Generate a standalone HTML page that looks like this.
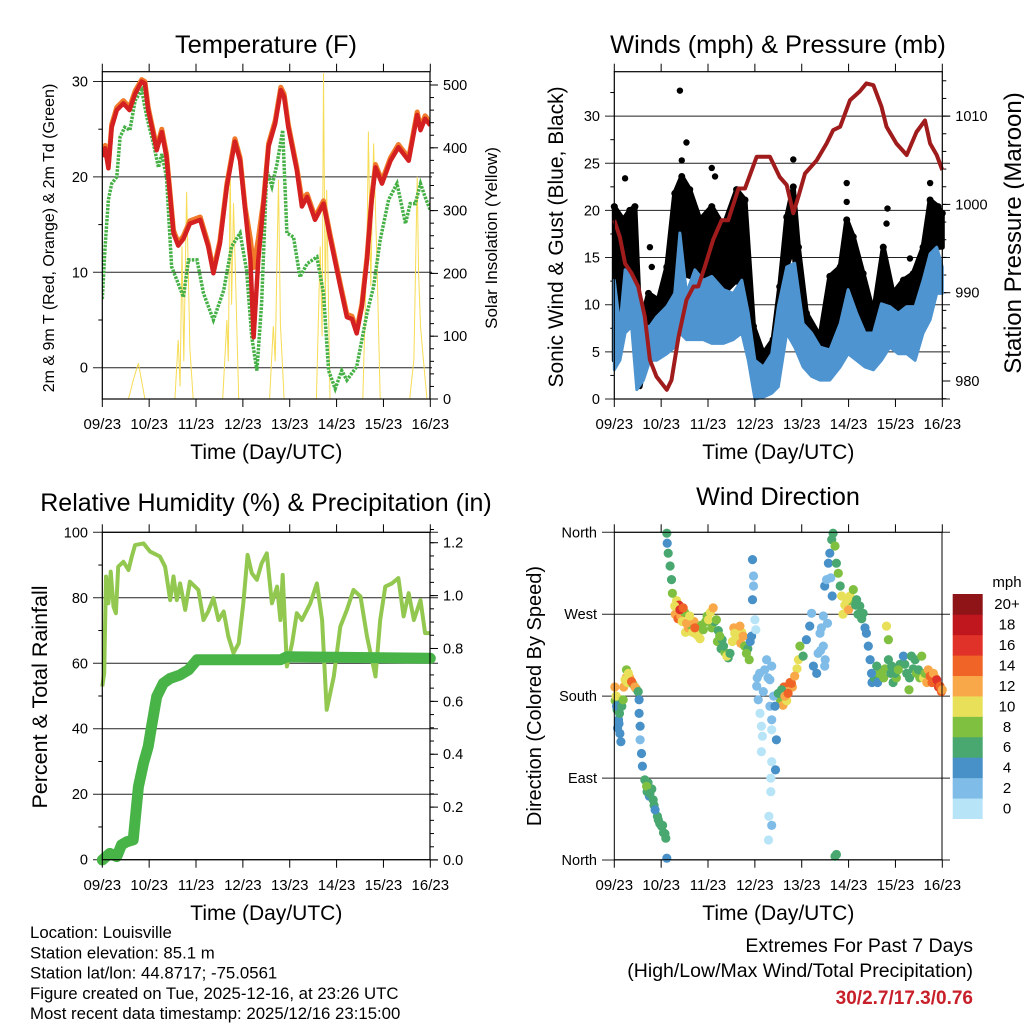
<!DOCTYPE html>
<html><head><meta charset="utf-8"><style>
html,body{margin:0;padding:0;background:#fff;}
svg{display:block;font-family:"Liberation Sans",sans-serif;}
</style></head><body>
<svg id="chart" width="1024" height="1024" viewBox="0 0 1024 1024" xmlns="http://www.w3.org/2000/svg">
<rect x="0" y="0" width="1024" height="1024" fill="#fff"/>
<g id="layer"></g>
</svg>
<script>
// ---------- data ----------
const dayLabels=['09/23','10/23','11/23','12/23','13/23','14/23','15/23','16/23'];
const tempTicks=[0,10,20,30];
const solarTicks=[0,100,200,300,400,500];
const windTicks=[0,5,10,15,20,25,30];
const presTicks=[980,990,1000,1010];
const rhTicks=[0,20,40,60,80,100];
const precTicks=[0,0.2,0.4,0.6,0.8,1.0,1.2];
const dirTickVals=[0,90,180,270,360];
const dirTickLabels=['North','East','South','West','North'];
const speedBins=['0','2','4','6','8','10','12','14','16','18','20+'];
const speedColors=['#b8e4f8','#80bce8','#4890c8','#48a870','#80c040','#e8e058','#f8a848','#f06428','#e03228','#c0161e','#8e1418'];

const redT=[0,0.06,0.13,0.20,0.31,0.45,0.58,0.70,0.84,0.91,0.98,1.16,1.27,1.37,1.52,1.62,1.73,1.87,2.09,2.26,2.37,2.51,2.66,2.83,2.94,3.05,3.16,3.23,3.33,3.44,3.55,3.69,3.81,3.88,3.97,4.15,4.26,4.37,4.54,4.72,4.86,5.08,5.22,5.33,5.43,5.54,5.65,5.75,5.83,5.97,6.15,6.32,6.54,6.72,6.79,6.89,7.0];
const redV=[22.1,23.0,20.9,25.2,27.0,27.7,27.0,28.7,30.0,29.8,27.0,22.8,24.7,22.1,14.1,12.8,13.5,15.1,15.5,12.7,9.9,13.0,19.0,23.7,21.7,16.5,11.3,3.2,11.3,17.2,23.2,25.6,29.1,28.4,25.2,20.7,16.9,17.9,15.5,17.2,13.7,8.5,5.3,5.1,3.6,6.4,11.3,17.6,21.0,19.3,21.7,23.1,21.7,26.5,24.9,26.1,25.4];
const orangeV=[22.5,23.3,21.2,25.5,27.3,28.0,27.3,29.0,30.2,30.0,27.3,23.1,25.0,22.4,14.4,13.1,13.8,15.4,15.8,13.0,10.2,13.3,19.3,24.0,22.0,16.8,13.5,10.5,13.5,17.5,23.5,25.9,29.4,28.7,25.5,21.0,17.6,18.2,15.8,17.5,14.0,8.8,5.6,5.4,3.9,6.7,11.6,17.9,21.3,19.6,22.0,23.4,22.0,26.8,25.2,26.4,25.7];
const greenT=[0,0.06,0.13,0.20,0.31,0.38,0.48,0.59,0.70,0.84,0.95,1.09,1.20,1.27,1.37,1.48,1.59,1.73,1.84,2.02,2.16,2.37,2.59,2.76,2.94,3.08,3.19,3.30,3.40,3.51,3.62,3.73,3.85,3.94,4.08,4.22,4.37,4.58,4.72,4.83,4.97,5.11,5.22,5.43,5.65,5.79,5.93,6.11,6.29,6.47,6.57,6.68,6.79,6.89,7.0];
const greenV=[7.2,12.7,17.6,19.3,20.0,24.2,25.2,24.9,28.0,29.1,26.3,23.5,21.0,22.4,20.0,10.6,9.2,7.4,11.3,11.3,7.8,5.0,8.1,12.7,14.1,10.2,3.2,-0.3,6.7,20.7,19.0,21.4,24.9,14.1,13.7,9.5,10.9,11.6,7.8,-0.3,-2.2,-0.3,-1.3,0.1,5.7,8.5,13.4,17.6,19.3,15.1,17.2,17.2,19.3,17.9,16.5];
const solarT=[0,0.56,0.66,0.77,0.91,1.55,1.62,1.66,1.70,1.74,1.80,1.87,1.94,2.57,2.66,2.69,2.73,2.76,2.80,2.83,2.91,3.57,3.65,3.69,3.73,3.76,3.80,3.88,4.57,4.65,4.69,4.72,4.76,4.79,4.86,5.56,5.65,5.68,5.73,5.79,5.86,5.93,6.56,6.65,6.72,6.75,6.79,6.86,6.93,7.0];
const solarV=[0,0,30,57,0,0,94,20,243,60,330,80,0,0,126,60,370,150,312,232,0,0,116,60,232,349,120,0,0,243,100,519,150,333,0,0,248,426,180,407,222,0,0,63,354,200,116,57,0,0];

const presT=[0,0.12,0.23,0.37,0.51,0.65,0.76,0.90,1.12,1.22,1.37,1.54,1.69,1.79,1.93,2.11,2.29,2.43,2.65,2.79,3.04,3.32,3.53,3.68,3.82,3.93,4.07,4.32,4.53,4.67,4.82,5.03,5.24,5.38,5.53,5.70,5.81,6.02,6.24,6.45,6.63,6.74,6.88,7.0];
const presV=[998.2,996.3,993.3,992.2,990.7,987.3,982.4,980.5,979.0,980.1,985.0,989.2,990.7,990.7,992.9,996.0,998.2,998.2,1001.8,1001.8,1005.4,1005.4,1003.1,1002.2,999.0,1000.9,1003.5,1005.0,1006.9,1008.4,1008.8,1011.8,1012.8,1013.7,1013.5,1011.1,1008.8,1006.9,1005.6,1008.2,1009.5,1006.9,1005.6,1003.9];
const windT=[0,0.12,0.23,0.37,0.48,0.62,0.76,0.90,1.12,1.29,1.40,1.54,1.72,1.90,2.08,2.33,2.54,2.72,2.86,3.00,3.18,3.36,3.50,3.68,3.85,4.03,4.21,4.39,4.60,4.82,4.99,5.17,5.35,5.53,5.70,5.88,6.06,6.24,6.42,6.59,6.74,6.88,7.0];
const windHi=[12.6,7.7,13.7,13.0,11.9,7.7,7.7,8.7,9.8,11.2,17.6,11.2,13.7,12.6,13.0,11.6,11.2,12.6,9.1,4.1,3.4,4.8,9.8,14.0,14.4,8.0,7.0,5.5,5.2,8.0,11.6,9.1,7.0,7.0,10.1,9.8,9.1,9.8,9.8,12.6,15.4,16.1,14.0];
const windLo=[3.1,4.1,7.0,7.7,1.0,2.0,4.1,4.1,4.8,5.5,7.0,6.3,6.3,6.3,5.9,5.9,6.3,7.0,4.1,0.0,0.2,0.6,1.3,7.0,5.5,3.4,2.4,2.0,2.0,3.4,4.8,4.1,3.4,3.1,4.1,5.5,4.8,4.8,4.1,7.0,8.4,11.2,11.2];
const gustT=[0,0.19,0.33,0.44,0.55,0.73,0.94,1.12,1.29,1.44,1.61,1.83,2.08,2.33,2.61,2.79,2.97,3.18,3.39,3.53,3.68,3.82,3.93,4.10,4.39,4.60,4.82,4.96,5.10,5.31,5.53,5.74,5.95,6.17,6.38,6.59,6.74,6.91,7.0];
const gustHi=[20.4,19.0,20.0,20.4,7.7,11.2,10.5,14.0,21.8,23.6,22.2,19.0,20.4,18.3,22.2,21.1,7.7,4.8,6.3,11.9,19.3,22.5,16.1,9.1,6.6,13.0,14.0,19.0,17.2,13.3,9.1,16.1,11.2,12.6,13.3,16.1,21.1,20.4,19.7];
const gustLo=[4.1,7.7,11.9,11.9,1.3,6.3,6.6,7.7,11.2,13.3,13.0,12.6,11.9,11.2,12.6,11.2,4.1,1.3,2.0,4.1,14.0,16.1,11.2,5.5,4.1,5.2,8.4,11.2,11.2,8.4,5.5,9.1,7.7,8.4,8.7,10.1,14.7,16.1,16.1];
const gustOutT=[1.40,1.54,1.44,2.08,2.15,0.23,0.76,0.80,3.82,4.96,4.96,5.83,5.81,6.74,6.31];
const gustOutV=[32.7,27.2,25.3,24.5,23.6,23.4,16.1,14.0,25.4,22.9,20.9,20.2,18.6,22.9,14.9];

const rhT=[0,0.04,0.08,0.13,0.18,0.24,0.29,0.34,0.45,0.56,0.63,0.70,0.88,1.02,1.23,1.34,1.45,1.52,1.59,1.66,1.77,1.87,2.05,2.16,2.26,2.37,2.48,2.59,2.69,2.80,2.91,3.01,3.10,3.19,3.30,3.40,3.51,3.62,3.73,3.80,3.85,3.94,4.05,4.15,4.26,4.44,4.58,4.69,4.79,4.94,5.08,5.22,5.36,5.51,5.65,5.83,5.93,6.04,6.18,6.32,6.43,6.54,6.65,6.79,6.89,7.0];
const rhV=[52.9,57.0,86.5,78.3,88.0,77.3,75.3,89.5,91.0,88.5,92.6,96.1,96.6,94.1,92.6,89.5,79.3,86.5,79.3,84.4,76.3,84.9,82.4,73.2,75.8,79.9,73.2,75.8,68.2,63.1,66.1,78.3,93.1,87.5,85.5,90.5,93.6,78.3,83.4,73.2,87.0,59.0,66.1,75.3,73.2,78.3,84.4,73.2,45.8,56.0,71.2,76.3,82.4,80.4,68.2,56.0,73.2,83.4,84.4,86.0,74.3,81.4,73.2,79.3,69.2,69.2];
const precT=[0,0.16,0.31,0.41,0.52,0.66,0.77,0.88,0.98,1.05,1.16,1.30,1.45,1.66,1.84,2.02,3.80,3.94,7.0];
const precV=[0,0.025,0.013,0.057,0.069,0.076,0.277,0.366,0.429,0.504,0.618,0.668,0.687,0.70,0.719,0.757,0.757,0.769,0.763];

const dirT=[0.01,0.04,0.05,0.09,0.12,0.14,0.11,0.16,0.19,0.23,0.26,0.30,0.37,0.44,0.51,0.53,0.53,0.55,0.55,0.58,0.60,0.65,0.69,0.76,0.83,0.87,0.94,1.01,1.08,1.10,1.12,1.12,1.13,1.15,1.19,1.22,1.24,1.29,1.40,1.47,1.54,1.61,1.72,1.79,1.90,2.01,2.11,2.18,2.25,2.33,2.40,2.47,2.57,2.68,2.75,2.82,2.88,2.93,2.95,2.97,2.97,2.95,3.00,3.02,3.04,3.07,3.11,3.14,3.16,3.14,3.21,3.25,3.32,3.36,3.32,3.36,3.36,3.36,3.44,3.34,3.34,3.30,3.36,3.29,3.43,3.46,3.50,3.57,3.64,3.71,3.78,3.85,3.93,3.96,4.03,4.10,4.17,4.21,4.25,4.32,4.35,4.39,4.46,4.49,4.46,4.49,4.53,4.57,4.60,4.64,4.67,4.71,4.74,4.78,4.82,4.85,4.96,5.03,5.10,5.17,5.24,5.31,5.38,5.42,5.46,5.49,5.60,5.70,5.81,5.85,5.85,5.92,5.99,6.06,6.17,6.24,6.29,6.34,6.42,6.49,6.56,6.63,6.70,6.74,6.81,6.88,6.95,7.00,4.71,4.74];
const dirDeg=[190,180,169,154,139,130,161,169,176,198,209,205,196,190,185,176,161,147,132,117,103,88,81,73,66,55,44,37,29,24,2,359,348,337,323,308,293,279,275,277,260,268,255,246,253,264,277,264,246,235,224,227,249,257,246,227,220,246,330,312,301,286,264,253,191,176,161,147,136,119,209,220,198,213,169,154,143,108,99,90,75,48,38,22,169,132,183,187,180,183,194,202,220,235,224,242,257,271,213,205,227,249,235,213,268,301,308,326,337,352,359,345,326,315,301,290,286,290,297,286,279,271,249,235,220,205,213,205,257,242,220,213,205,209,224,205,187,224,220,209,224,205,209,202,205,198,191,187,4,6];
const dirSpd=[12,10,5,4,4,4,6,6,8,10,8,10,14,12,6,4,4,4,2,4,4,6,8,6,6,4,6,6,6,6,4,6,4,6,6,6,8,10,16,14,12,10,14,10,8,10,12,8,8,6,10,6,10,12,12,8,8,4,4,2,2,4,0,0,2,2,0,0,0,0,2,2,2,2,2,2,0,0,4,0,0,0,2,0,4,4,6,6,12,14,14,12,10,8,6,4,4,2,4,4,2,2,2,2,2,4,2,4,4,6,6,8,6,8,6,10,10,10,8,6,6,6,4,4,4,4,6,8,10,8,6,6,6,8,4,6,8,6,6,6,8,8,12,14,12,16,14,12,6,6];
const dirT2=[1.30,1.33,1.36,1.38,1.42,1.45,1.50,1.52,1.58,1.63,1.67,1.70,1.75,1.83,1.86,1.95,1.98,2.05,2.08,2.14,2.20,2.22,2.28,2.30,2.36,2.43,2.52,2.55,2.60,2.63,2.70,2.72,2.78,2.85,2.90,0.02,0.06,0.08,0.10,0.07,0.20,0.25,0.28,0.33,0.40,0.47,0.70,0.72,0.75,0.80,0.85,0.92,0.97,1.03,1.05,3.55,3.60,3.62,3.67,3.68,3.75,3.80,3.90,4.40,4.42,4.50,4.55,4.62,4.65,4.88,4.92,5.00,5.05,5.15,5.20,5.28,5.35,5.50,5.55,5.62,5.65,5.75,5.78,5.90,5.95,6.02,6.10,6.20,6.30,6.38,6.45,6.52,6.60,6.67,6.78,6.85,6.92,6.98,3.05,3.10,3.18,3.28,3.40];
const dirDeg2=[270,285,265,280,268,262,272,250,255,258,250,262,248,243,258,262,268,272,255,262,240,252,232,242,228,222,240,255,250,243,238,250,235,232,240,175,165,172,150,145,190,200,195,200,193,188,75,85,70,78,60,48,40,38,30,175,170,190,185,175,195,190,210,230,255,220,260,310,290,270,280,275,285,280,270,265,255,195,200,195,205,200,210,205,195,200,215,215,200,210,205,200,200,195,195,200,190,185,200,205,185,200,180];
const dirSpd2=[12,10,14,16,12,10,8,10,12,8,10,12,10,10,8,8,8,10,8,6,8,6,6,6,8,6,10,12,12,10,12,10,8,6,4,8,6,6,4,4,12,12,10,12,8,8,6,6,4,6,6,6,6,6,6,8,12,14,12,10,14,12,10,2,2,2,2,2,4,10,10,12,8,6,6,6,4,4,6,4,8,8,8,6,6,8,6,6,6,6,8,8,10,12,14,12,16,14,2,2,2,2,2];

// ---------- helpers ----------
const NS='http://www.w3.org/2000/svg';
const root=document.getElementById('layer');
function mk(tag,attrs,parent){const e=document.createElementNS(NS,tag);for(const k in attrs)e.setAttribute(k,attrs[k]);(parent||root).appendChild(e);return e;}
function txt(s,attrs,parent){const e=mk('text',attrs,parent);e.textContent=s;return e;}
const DAYW=328/7;
function pathFrom(ts,vs,fx,fy){let d='';for(let i=0;i<ts.length;i++){d+=(i?'L':'M')+fx(ts[i]).toFixed(1)+','+fy(vs[i]).toFixed(1);}return d;}
function bandFrom(ts,hi,lo,fx,fy){let d='';for(let i=0;i<ts.length;i++)d+=(i?'L':'M')+fx(ts[i]).toFixed(1)+','+fy(hi[i]).toFixed(1);for(let i=ts.length-1;i>=0;i--)d+='L'+fx(ts[i]).toFixed(1)+','+fy(lo[i]).toFixed(1);return d+'Z';}

function xAxis(g,x0,yTop,yBot,labelY,titleY,prefix){
  for(let i=0;i<dayLabels.length;i++){
    const x=x0+i*DAYW;
    const t1=mk('line',{x1:x,y1:yTop,x2:x,y2:yTop-8,stroke:'#000','stroke-width':1},g);
    
    
    const t2=mk('line',{x1:x,y1:yBot,x2:x,y2:yBot+8,stroke:'#000','stroke-width':1},g);
    
    
    const l=txt(dayLabels[i],{x:x,y:labelY,'font-size':15,'text-anchor':'middle'},g);
    
    
  }
  const tt=txt('Time (Day/UTC)',{x:x0+164,y:titleY,'font-size':21,'text-anchor':'middle'},g);
  
  
}
function frame(g,x0,y0,x1,y1,prefix){
  const r=mk('rect',{x:x0,y:y0,width:x1-x0,height:y1-y0,fill:'none',stroke:'#000','stroke-width':1.2},g);
  
  
}
function leftTicks(g,vals,labels,fy,x0,gx0,gx1,prefix,minorVals){
  (minorVals||[]).forEach(v=>{const m=mk('line',{x1:x0,x2:x0-4,y1:fy(v),y2:fy(v),stroke:'#000','stroke-width':1},g);
    
    });
  vals.forEach((v,i)=>{
    const y=fy(v);
    const gl=mk('line',{x1:gx0,x2:gx1,y1:y,y2:y,stroke:'#222','stroke-width':1},g);
    
    
    const l=txt(labels[i],{x:gx0-5,y:y+5,'font-size':14.5,'text-anchor':'end'},g);
    
    
  });
}
function rightTicks(g,vals,labels,fy,x1,prefix,minorVals){
  minorVals.forEach(v=>{const m=mk('line',{x1:x1,x2:x1+4,y1:fy(v),y2:fy(v),stroke:'#000','stroke-width':1},g);
    
    });
  vals.forEach((v,i)=>{
    const y=fy(v);
    const t=mk('line',{x1:x1,x2:x1+8,y1:y,y2:y,stroke:'#000','stroke-width':1},g);
    
    
    const l=txt(labels[i],{x:x1+13,y:y+5,'font-size':14.5,'text-anchor':'start'},g);
    
    
  });
}
function vtitle(g,s,x,y,size,name){
  const t=txt(s,{x:0,y:0,'font-size':size,'text-anchor':'middle',transform:`translate(${x},${y}) rotate(-90)`},g);
  
  
}
function htitle(g,s,x,y,size,name){
  const t=txt(s,{x:x,y:y,'font-size':size,'text-anchor':'middle'},g);
  
  
}
function range(a,b,s){const r=[];for(let v=a;v<=b+1e-9;v+=s)r.push(+v.toFixed(4));return r;}

// ---------- Panel 1: Temperature ----------
{
const g=mk('g',{});


const X=t=>102.3+t*DAYW, Y=v=>367.7-v*9.54, YS=s=>399-s*0.628;
const cp=mk('clipPath',{id:'cp1'},g);mk('rect',{x:102.3,y:71.7,width:327.7,height:327.3},cp);
leftTicks(g,tempTicks,tempTicks.map(String),Y,102.3,93,432,'temp',[5,15,25]);
rightTicks(g,solarTicks,solarTicks.map(String),YS,430,'solar',range(0,500,20));
const sol=mk('path',{d:pathFrom(solarT,solarV,X,YS),fill:'none',stroke:'#f7dc55','stroke-width':1,'clip-path':'url(#cp1)'},g);


const gr=mk('path',{d:pathFrom(greenT,greenV,X,Y),fill:'none',stroke:'#45b045','stroke-width':3.5,'stroke-dasharray':'2.5 1.2','clip-path':'url(#cp1)'},g);


const or=mk('path',{d:pathFrom(redT,orangeV,X,Y),fill:'none',stroke:'#f07a2a','stroke-width':5,'stroke-linejoin':'round','clip-path':'url(#cp1)'},g);


const rd=mk('path',{d:pathFrom(redT,redV,X,Y),fill:'none',stroke:'#d42020','stroke-width':4.5,'stroke-linejoin':'round','clip-path':'url(#cp1)'},g);


frame(g,102.3,71.7,430,399,'temp');
xAxis(g,102.3,71.7,399,429,459,'temp');
htitle(g,'Temperature (F)',266,53,25.4,'temperature-title');
vtitle(g,'2m & 9m T (Red, Orange) & 2m Td (Green)',54,238,16,'temp-y-axis-title');
vtitle(g,'Solar Insolation (Yellow)',497,238,17,'solar-y-axis-title');
}

// ---------- Panel 2: Winds & Pressure ----------
{
const g=mk('g',{});


const X=t=>614.3+t*DAYW, Y=v=>399-v*9.43, YP=p=>381-(p-980)*8.83;
const cp=mk('clipPath',{id:'cp2'},g);mk('rect',{x:610,y:71.7,width:336,height:329},cp);
leftTicks(g,windTicks,windTicks.map(String),Y,614.3,605,950,'wind',range(2.5,32.5,5));
rightTicks(g,presTicks,presTicks.map(String),YP,942.3,'pressure',range(978,1014,2));
const gb=mk('path',{d:bandFrom(gustT,gustHi,gustLo,X,Y),fill:'#000',stroke:'#000','stroke-width':5,'stroke-linejoin':'round','clip-path':'url(#cp2)'},g);


for(let i=0;i<gustT.length;i++){
  const c=mk('circle',{cx:X(gustT[i]),cy:Y(gustHi[i]),r:3.5,fill:'#000'},g);
  
  
}
for(let i=0;i<gustOutT.length;i++){
  const c=mk('circle',{cx:X(gustOutT[i]),cy:Y(gustOutV[i]),r:3.2,fill:'#000'},g);
  
  
}
const wb=mk('path',{d:bandFrom(windT,windHi,windLo,X,Y),fill:'#4e94d0',stroke:'#4e94d0','stroke-width':3,'stroke-linejoin':'round','clip-path':'url(#cp2)'},g);


const pl=mk('path',{d:pathFrom(presT,presV,X,YP),fill:'none',stroke:'#a01c1c','stroke-width':4,'stroke-linejoin':'round'},g);


frame(g,614.3,71.7,942.3,399,'wind');
xAxis(g,614.3,71.7,399,429,459,'wind');
htitle(g,'Winds (mph) & Pressure (mb)',778,53,25.4,'winds-title');
vtitle(g,'Sonic Wind & Gust (Blue, Black)',563,237,21,'wind-y-axis-title');
vtitle(g,'Station Pressure (Maroon)',1021,233,24,'pressure-y-axis-title');
}

// ---------- Panel 3: RH & Precip ----------
{
const g=mk('g',{});


const X=t=>102.3+t*DAYW, Y=v=>859.7-v*3.274, YP=p=>860-p*264.4;
leftTicks(g,rhTicks,rhTicks.map(String),Y,102.3,93,438,'rh',range(10,90,20));
rightTicks(g,precTicks,precTicks.map(v=>v.toFixed(1)),YP,430,'precip',range(0,1.25,0.05));
const rl=mk('path',{d:pathFrom(rhT,rhV,X,Y),fill:'none',stroke:'#92c850','stroke-width':4,'stroke-linejoin':'round'},g);


const pr=mk('path',{d:pathFrom(precT,precV,X,YP),fill:'none',stroke:'#48b448','stroke-width':11,'stroke-linejoin':'round','stroke-linecap':'round'},g);


frame(g,102.3,532.3,430,859.7,'rh');
xAxis(g,102.3,532.3,859.7,890,920,'rh');
htitle(g,'Relative Humidity (%) & Precipitation (in)',266,511,25,'humidity-title');
vtitle(g,'Percent & Total Rainfall',47,697,21.5,'rh-y-axis-title');
}

// ---------- Panel 4: Wind Direction ----------
{
const g=mk('g',{});


const X=t=>614.3+t*DAYW, Y=d=>860-d*(327.7/360);
leftTicks(g,dirTickVals,dirTickLabels,Y,614.3,602,950,'dir',[]);
function dots(ts,ds,ss){
  for(let i=0;i<ts.length;i++){
    const idx=Math.min(10,Math.floor(ss[i]/2));
    const c=mk('circle',{cx:X(ts[i]).toFixed(1),cy:Y(ds[i]).toFixed(1),r:4.6,fill:speedColors[idx]},g);
    
    
  }
}
dots(dirT2,dirDeg2,dirSpd2);
dots(dirT,dirDeg,dirSpd);
const fr=mk('rect',{x:614.3,y:532.3,width:327.7,height:327.4,fill:'none',stroke:'#000','stroke-width':1},g);


xAxis(g,614.3,532.3,859.7,890,920,'dir');
htitle(g,'Wind Direction',778,505,25.2,'wind-direction-title');
vtitle(g,'Direction (Colored By Speed)',541,696,20,'dir-y-axis-title');
const cb=mk('g',{},g);


const top=594,bh=(818.7-594)/speedBins.length;
for(let i=0;i<speedBins.length;i++){
  const y=top+(speedBins.length-1-i)*bh;
  const r=mk('rect',{x:952.7,y:y,width:30,height:bh+0.3,fill:speedColors[i]},cb);
  
  
  const l=txt(speedBins[i],{x:1007,y:y+bh/2+5,'font-size':15,'text-anchor':'middle'},cb);
  
  
}
const mu=txt('mph',{x:1007,y:587,'font-size':15,'text-anchor':'middle'},cb);


}

// ---------- footer text ----------
{
const g=mk('g',{});


const lines=['Location: Louisville','Station elevation: 85.1 m','Station lat/lon: 44.8717; -75.0561','Figure created on Tue, 2025-12-16, at 23:26 UTC','Most recent data timestamp: 2025/12/16 23:15:00'];
lines.forEach((s,i)=>{
  const t=txt(s,{x:30,y:938+i*20.3,'font-size':16.8},g);
  
  
});
const e1=txt('Extremes For Past 7 Days',{x:973,y:952,'font-size':19.5,'text-anchor':'end'},g);


const e2=txt('(High/Low/Max Wind/Total Precipitation)',{x:973,y:977,'font-size':19.5,'text-anchor':'end'},g);


const e3=txt('30/2.7/17.3/0.76',{x:973,y:1004,'font-size':19,'font-weight':'bold',fill:'#c8202a','text-anchor':'end'},g);


}
</script>
</body></html>
